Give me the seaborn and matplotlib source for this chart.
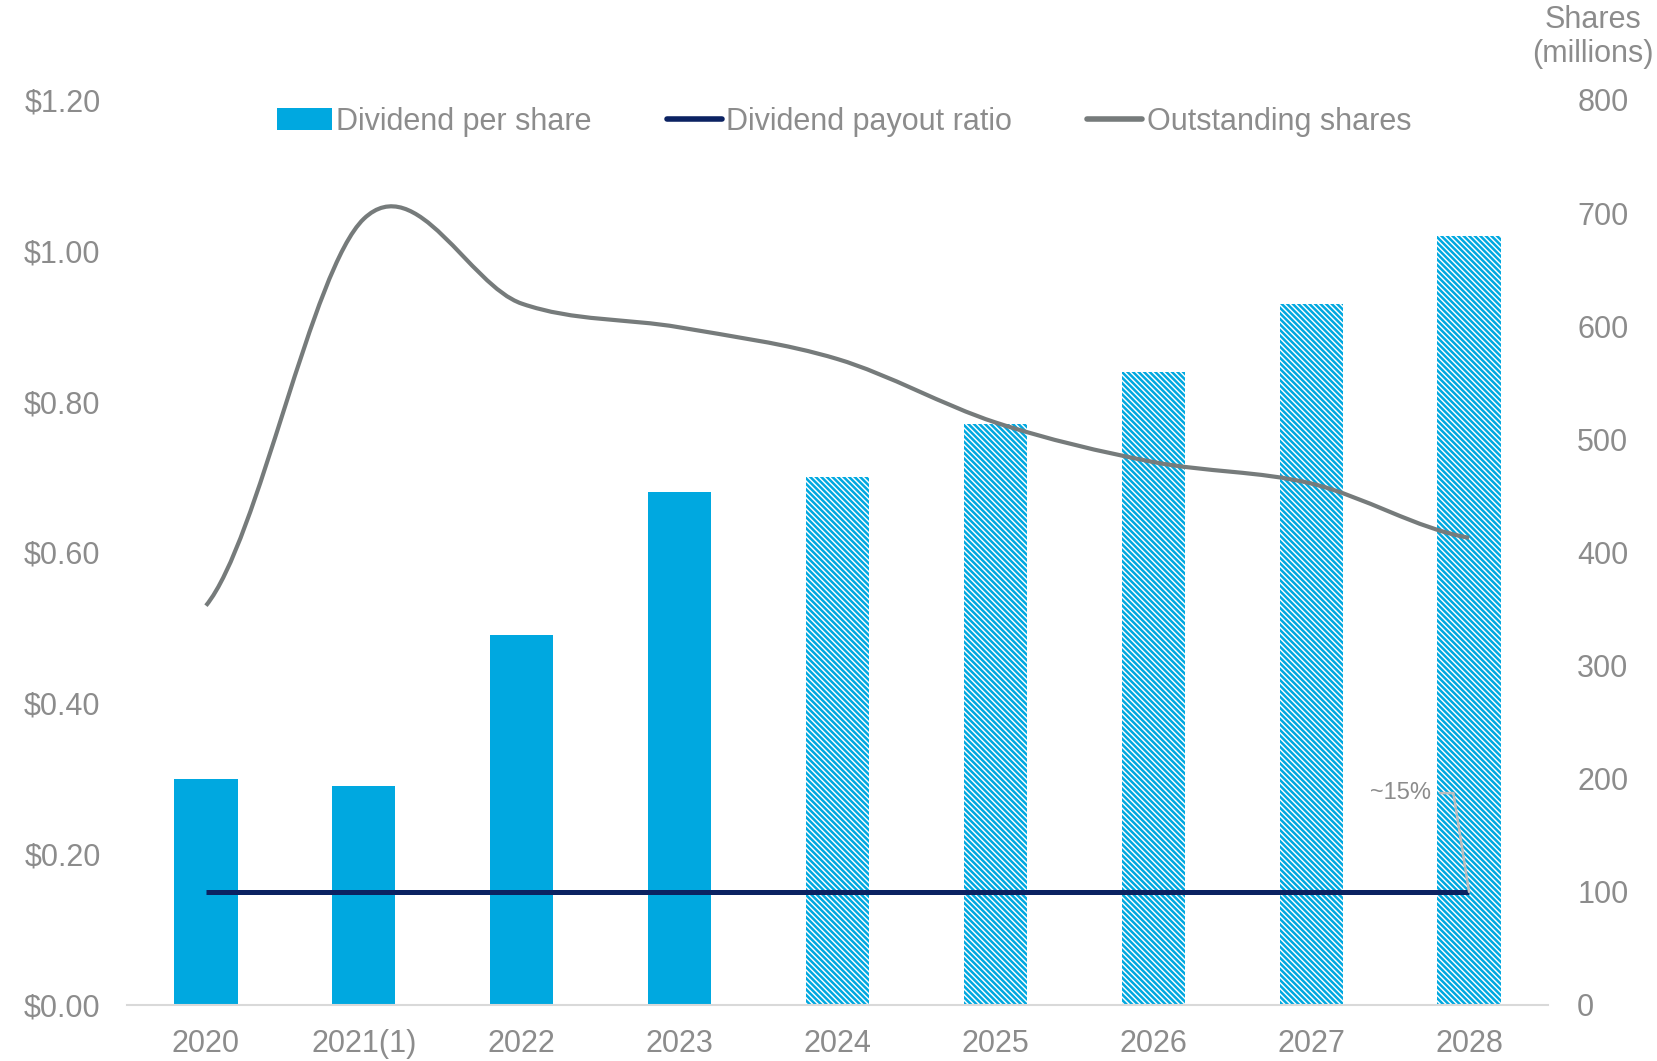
import numpy as np
import pandas as pd
import seaborn as sns
import matplotlib.pyplot as plt
from matplotlib.path import Path
from matplotlib.patches import PathPatch, Patch
from matplotlib.lines import Line2D

# dane
years = ["2020", "2021(1)", "2022", "2023", "2024", "2025", "2026", "2027", "2028"]
dividend_per_share = [0.30, 0.29, 0.49, 0.68, 0.70, 0.77, 0.84, 0.93, 1.02]
payout_ratio = [0.15, 0.15, 0.15, 0.15, 0.15, 0.15, 0.15, 0.15, 0.15]
shares_outstanding = [353, 695, 620, 599, 571, 515, 480, 461, 413]
n_actual = 4  # 2020-2023 pełne słupki, reszta prognoza (kreskowana)

BLUE = "#00a8e0"
NAVY = "#0b2262"
GREY_LINE = "#767b7b"
TEXT = "#8c8c8c"
FS = 22

sns.set_theme(style="white")
plt.rcParams["font.family"] = ["Liberation Sans", "DejaVu Sans"]
plt.rcParams["hatch.linewidth"] = 1.8

df = pd.DataFrame({"year": years, "dps": dividend_per_share,
                   "payout": payout_ratio, "shares": shares_outstanding})
df["pos"] = np.arange(len(df))

fig = plt.figure(figsize=(16.58, 10.61), dpi=100)
ax = fig.add_axes([127 / 1658, 1 - 1005 / 1061, (1548 - 127) / 1658, 905 / 1061])

sns.barplot(data=df, x="year", y="dps", color=BLUE, width=0.4, saturation=1, ax=ax)
for i, bar in enumerate(ax.patches):
    bar.set_linewidth(0)
    if i >= n_actual:
        bar.set_facecolor("white")
        bar.set_edgecolor(BLUE)
        bar.set_hatch("\\" * 6)

sns.lineplot(data=df, x="pos", y="payout", color=NAVY, linewidth=3.6, ax=ax,
             solid_capstyle="butt")

ax.set_xlim(-0.5, len(years) - 0.5)
ax.set_ylim(0, 1.2)
ax.set_yticks(np.arange(0, 1.21, 0.2))
ax.set_yticklabels([f"${v:.2f}" for v in np.arange(0, 1.21, 0.2)])
ax.set_xticks(df["pos"])
ax.set_xticklabels(years)
ax.set_xlabel("")
ax.set_ylabel("")
ax.tick_params(axis="both", length=0, labelsize=FS, labelcolor=TEXT)
ax.tick_params(axis="y", pad=19)
ax.tick_params(axis="x", pad=17)
for s in ["top", "right", "left"]:
    ax.spines[s].set_visible(False)
ax.spines["bottom"].set_color("#d9d9d9")
ax.spines["bottom"].set_linewidth(1.5)

# druga oś - liczba akcji (wygładzona linia jak w Excelu)
ax2 = ax.twinx()
ax2.set_ylim(0, 800)
ax2.set_yticks(range(0, 801, 100))
ax2.tick_params(axis="y", length=0, labelsize=FS, labelcolor=TEXT, pad=21)
for s in ax2.spines.values():
    s.set_visible(False)

x = df["pos"].to_numpy(dtype=float)
y = df["shares"].to_numpy(dtype=float)
yp = np.concatenate([[y[0]], y, [y[-1]]])
slopes = (yp[2:] - yp[:-2]) / 2
verts = [(x[0], y[0])]
codes = [Path.MOVETO]
for i in range(len(x) - 1):
    verts += [(x[i] + 1 / 3, y[i] + slopes[i] / 3),
              (x[i + 1] - 1 / 3, y[i + 1] - slopes[i + 1] / 3),
              (x[i + 1], y[i + 1])]
    codes += [Path.CURVE4] * 3
ax2.add_patch(PathPatch(Path(verts, codes), facecolor="none", edgecolor=GREY_LINE,
                        linewidth=3.0, capstyle="butt"))
ax.set_xlim(-0.5, len(years) - 0.5)

# adnotacja ~15%
ax.annotate("~15%", xy=(8, 0.15), xytext=(7.76, 0.281), ha="right", va="center",
            fontsize=17, color=TEXT,
            arrowprops=dict(arrowstyle="-", color="#bdbdbd", lw=1.8,
                            shrinkA=4, shrinkB=0,
                            connectionstyle="angle,angleA=0,angleB=99,rad=0"))

fig.text(0.961, 0.995, "Shares\n(millions)", ha="center", va="top",
         fontsize=FS, color=TEXT, linespacing=1.15)

handles = [Patch(facecolor=BLUE, edgecolor="none"),
           Line2D([], [], color=NAVY, linewidth=4, solid_capstyle="round"),
           Line2D([], [], color=GREY_LINE, linewidth=4, solid_capstyle="round")]
labels = ["Dividend per share", "Dividend payout ratio", "Outstanding shares"]
leg = fig.legend(handles, labels, loc="center", bbox_to_anchor=(0.509, 0.8854),
                 ncol=3, frameon=False, fontsize=FS, handlelength=1.8,
                 handletextpad=0.15, columnspacing=2.45)
for t in leg.get_texts():
    t.set_color(TEXT)

fig.savefig("out.png", dpi=100)
